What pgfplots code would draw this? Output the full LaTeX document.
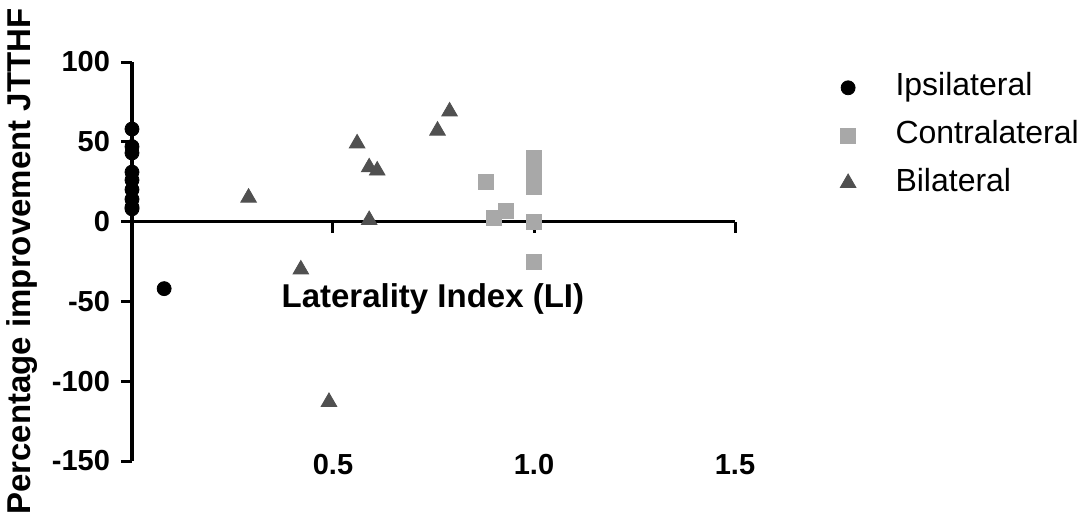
\documentclass[border=0pt]{standalone}
\usepackage{fontspec}
\setmainfont{Liberation Sans}
\usepackage{pgfplots}
\pgfplotsset{compat=1.18}
\definecolor{bilat}{RGB}{80,80,80}
\definecolor{contra}{RGB}{168,168,168}

\begin{document}
\begin{tikzpicture}
\useasboundingbox (-66pt,-30pt) rectangle (480pt,230.5pt);
% main axis: y line at x=0, x line through y=0
\begin{axis}[at={(0pt,0pt)},anchor=south west,
  scale only axis,width=301.5pt,height=199.5pt,
  xmin=0,xmax=1.5,ymin=-150,ymax=100,
  axis x line=middle,axis y line=left,
  axis line style={-,line width=1.7pt},
  every tick/.style={black,line width=1.5pt},
  tick align=outside,major tick length=5.5pt,
  xtick={0.5,1,1.5},xticklabels={},
  ytick={-150,-100,-50,0,50,100},
  /pgf/number format/assume math mode=true,
  tick label style={font=\fontsize{14.5}{17}\selectfont\bfseries},
  yticklabel style={xshift=-2pt},
  xlabel={Laterality Index (LI)},
  ylabel={Percentage improvement JTTHF},
  label style={font=\fontsize{16.5}{19}\selectfont\bfseries},
  xlabel style={at={(axis description cs:0.499,0.405)},anchor=center},
  ylabel style={at={(axis description cs:-0.1824,0.5)},anchor=center},
  clip=false,
  legend style={at={(axis description cs:1.174,0.996)},anchor=north west,
    draw=none,fill=none,inner sep=0pt,row sep=0pt,
    font=\fontsize{16}{19}\selectfont,
    nodes={inner ysep=4.4pt,inner xsep=3pt,text height=11.5pt,text depth=3.5pt}},
  legend cell align=left,
  legend image code/.code={\draw[#1] plot coordinates {(0pt,0pt)};\path (20.5pt,0pt);}]
\addplot[only marks,mark=*,mark size=3.5pt,black] coordinates {
  (0,58) (0,47) (0,43) (0,31) (0,26) (0,20) (0,14) (0,9) (0,8) (0.08,-42)};
\addplot[only marks,mark=square*,mark size=3.75pt,contra] coordinates {
  (0.88,25) (0.90,2.5) (0.93,7) (1.0,40) (1.0,34) (1.0,28) (1.0,22)
  (1.0,0) (1.0,-25)};
\addplot[only marks,mark=triangle*,mark size=4.5pt,bilat] coordinates {
  (0.29,15) (0.42,-30) (0.49,-113) (0.56,49) (0.59,34) (0.61,32)
  (0.59,1) (0.76,57) (0.79,69)};
\legend{Ipsilateral,Contralateral,Bilateral}
\end{axis}
% x tick labels sit below the plot area
\begin{axis}[at={(0pt,0pt)},anchor=south west,
  scale only axis,width=301.5pt,height=199.5pt,
  xmin=0,xmax=1.5,ymin=-150,ymax=100,
  axis x line=bottom,hide y axis,
  x axis line style={draw=none},major tick length=0pt,
  xtick={0.5,1,1.5},xticklabels={0.5,1.0,1.5},
  xticklabel style={font=\fontsize{14.5}{17}\selectfont\bfseries,yshift=7pt}]
\end{axis}
\end{tikzpicture}
\end{document}
